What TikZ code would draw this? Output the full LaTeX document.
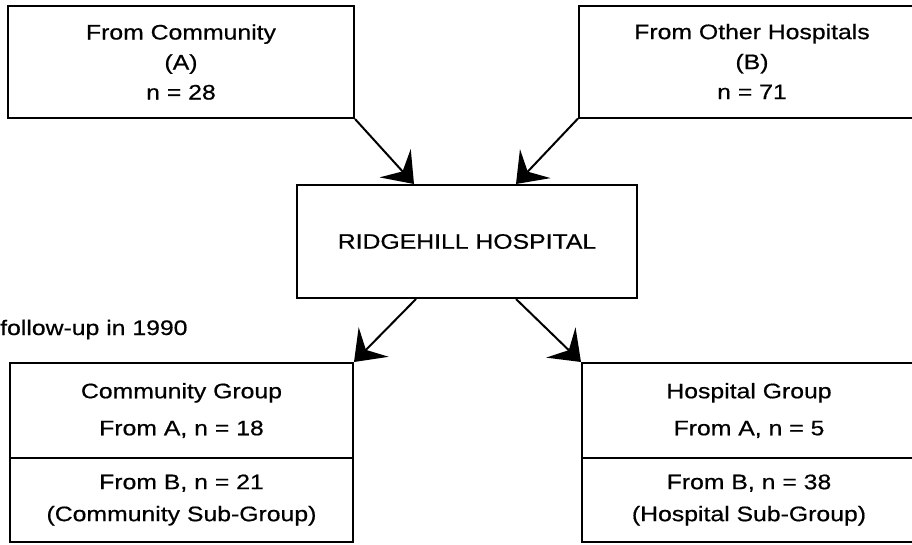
\documentclass[tikz,border=0pt]{standalone}
\usepackage{fontspec}
\setmainfont{Liberation Sans}[FakeStretch=1.18,FakeBold=0.6]
\usetikzlibrary{arrows.meta,calc}
\begin{document}
\begin{tikzpicture}[x=1pt,y=-1pt,
  box/.style={draw, line width=2pt, rectangle, inner sep=0pt, align=center},
  topbox/.style={box, minimum width=346pt, minimum height=112pt, font=\fontsize{21}{30}\selectfont},
  grpbox/.style={box, minimum width=343pt, minimum height=95pt, font=\fontsize{21}{37}\selectfont},
  subbox/.style={box, minimum width=343pt, minimum height=84pt, font=\fontsize{21}{32}\selectfont},
  link/.style={line width=2pt, -{Stealth[length=28pt,width=42pt,inset=11pt]}}]
\useasboundingbox (0,0) rectangle (912,544);
\clip (0,0) rectangle (912,544);
\node[topbox] (A) at (181,62) {From Community\\(A)\\n = 28};
\node[topbox] (B) at (752,61.5) {From Other Hospitals\\(B)\\n = 71};
\node[box, minimum width=340pt, minimum height=113pt, font=\fontsize{21}{30}\selectfont] (R) at (467,241.5) {RIDGEHILL HOSPITAL};
\node[anchor=base west, inner sep=0pt, font=\fontsize{21}{30}\selectfont] (F) at (0,335) {follow-up in 1990};
\node[grpbox] (CG) at (181.5,410.5) {Community Group\\From A, n = 18};
\node[subbox] (CS) at (181.5,500) {From B, n = 21\\(Community Sub-Group)};
\node[grpbox, minimum width=334pt] (HG) at (749,410.5) {Hospital Group\\From A, n = 5};
\node[subbox, minimum width=334pt] (HS) at (749,500) {From B, n = 38\\(Hospital Sub-Group)};
\draw[link] (A.south east) -- ($(R.north west)+(118,0)$);
\draw[link] (B.south west) -- ($(R.north west)+(220,0)$);
\draw[link] ($(R.south west)+(120,0)$) -- (CG.north east);
\draw[link] ($(R.south west)+(220,0)$) -- (HG.north west);
\end{tikzpicture}
\end{document}
